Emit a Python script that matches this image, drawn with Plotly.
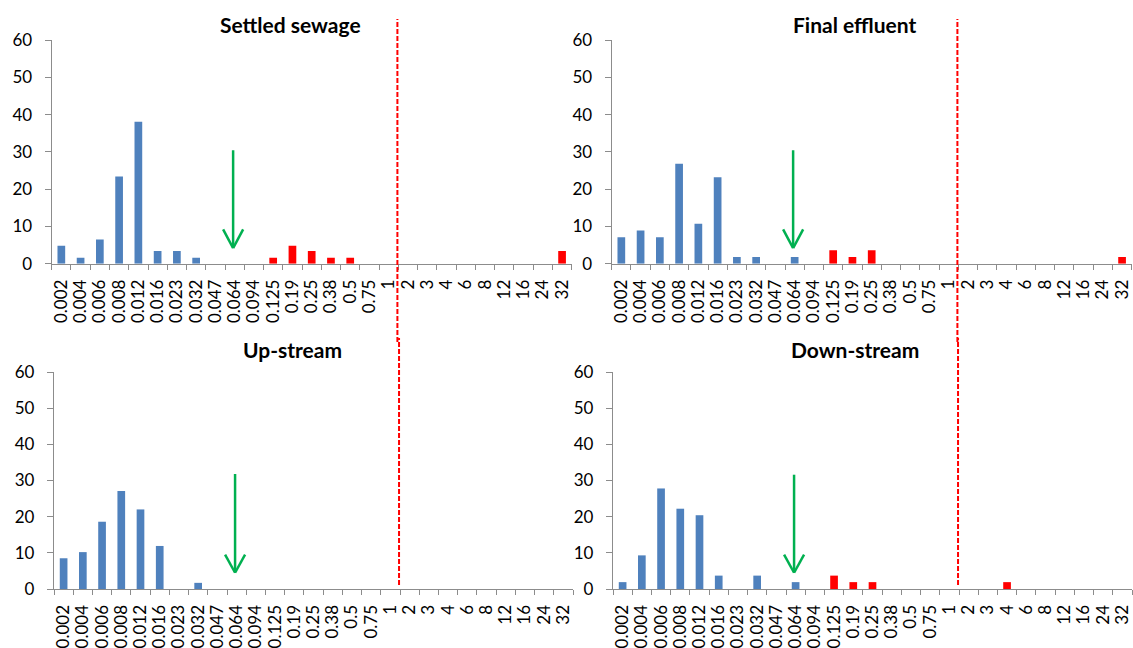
import plotly.graph_objects as go

# ---------------- data ----------------
categories = ["0.002", "0.004", "0.006", "0.008", "0.012", "0.016", "0.023", "0.032",
              "0.047", "0.064", "0.094", "0.125", "0.19", "0.25", "0.38", "0.5", "0.75",
              "1", "2", "3", "4", "6", "8", "12", "16", "24", "32"]

settled_sewage = [4.8, 1.6, 6.5, 23.4, 38.1, 3.4, 3.4, 1.6, 0, 0, 0, 1.6, 4.8, 3.4,
                  1.6, 1.6, 0, 0, 0, 0, 0, 0, 0, 0, 0, 0, 3.4]
final_effluent = [7.1, 8.9, 7.1, 26.8, 10.7, 23.2, 1.8, 1.8, 0, 1.8, 0, 3.6, 1.8, 3.6,
                  0, 0, 0, 0, 0, 0, 0, 0, 0, 0, 0, 0, 1.8]
up_stream = [8.5, 10.2, 18.6, 27.1, 22.0, 11.9, 0, 1.7, 0, 0, 0, 0, 0, 0,
             0, 0, 0, 0, 0, 0, 0, 0, 0, 0, 0, 0, 0]
down_stream = [1.9, 9.3, 27.8, 22.2, 20.4, 3.7, 0, 3.7, 0, 1.9, 0, 3.7, 1.9, 1.9,
               0, 0, 0, 0, 0, 0, 1.9, 0, 0, 0, 0, 0, 0]

titles = ["Settled sewage", "Final effluent", "Up-stream", "Down-stream"]
series = [settled_sewage, final_effluent, up_stream, down_stream]

susceptible_max = "0.094"      # bars above this MIC are drawn red
breakpoint_pos = 17.45         # dashed breakpoint line (between "1" and "2")
arrow_pos = 8.92               # green arrow (ECOFF) near "0.064"
arrow_top = [30.4, 30.4, 31.8, 31.6]
arrow_tip = [4.2, 4.2, 4.5, 4.5]

# ---------------- styling ----------------
BLUE = "#4F81BD"
RED = "#FF0000"
GREEN = "#00B050"
AXIS = "#8C8C8C"
FONT = "Lato"

W, H = 1133, 648
# plot areas in pixels: (left, right, top, bottom)
areas = [(51.7, 571.7, 40.0, 263.7),
         (611.7, 1131.7, 40.0, 263.7),
         (54.0, 573.0, 372.0, 589.0),
         (613.0, 1132.0, 372.0, 589.0)]
title_xy = [(290, 25), (854, 25), (292, 349.5), (855, 349.5)]
line_span = [(19, 342), (19, 342), (338, 585), (338, 585)]

cut_idx = categories.index(susceptible_max)
colors = [BLUE if i <= cut_idx else RED for i in range(len(categories))]

fig = go.Figure()
shapes = []
annotations = []

for k in range(4):
    n = "" if k == 0 else str(k + 1)
    fig.add_trace(go.Bar(
        x=categories, y=series[k], marker=dict(color=colors, line=dict(width=0)),
        xaxis="x" + n, yaxis="y" + n, showlegend=False, hoverinfo="x+y"))

    l, r, t, b = areas[k]
    fig.update_layout(**{
        "xaxis" + n: dict(
            domain=[l / W, r / W], anchor="y" + n, type="category",
            categoryorder="array", categoryarray=categories,
            range=[-0.5, len(categories) - 0.5], tickson="boundaries",
            tickmode="linear", tick0=0, dtick=1,
            ticks="outside", ticklen=5, tickcolor=AXIS, tickwidth=1,
            showline=True, linecolor=AXIS, linewidth=1.3,
            showgrid=False, zeroline=False, tickangle=-90,
            tickfont=dict(family=FONT, size=17, color="#000000"),
            ticklabelstandoff=8, automargin=False, fixedrange=True),
        "yaxis" + n: dict(
            domain=[1 - b / H, 1 - t / H], anchor="x" + n,
            range=[0, 60], dtick=10, tick0=0,
            ticks="outside", ticklen=6, tickcolor=AXIS, tickwidth=1,
            showline=True, linecolor=AXIS, linewidth=1.3,
            showgrid=False, zeroline=False,
            tickfont=dict(family=FONT, size=17, color="#000000"),
            ticklabelstandoff=9, automargin=False, fixedrange=True),
    })

    # title
    tx, ty = title_xy[k]
    annotations.append(dict(
        text="<b>" + titles[k] + "</b>", x=tx / W, y=1 - ty / H,
        xref="paper", yref="paper", xanchor="center", yanchor="middle",
        showarrow=False, font=dict(family=FONT, size=21, color="#000000")))

    # red dashed breakpoint line
    y0p, y1p = line_span[k]
    shapes.append(dict(
        type="line", xref="x" + n, yref="paper",
        x0=breakpoint_pos, x1=breakpoint_pos, y0=1 - y1p / H, y1=1 - y0p / H,
        line=dict(color=RED, width=2, dash="5px,2px")))

    # green arrow: shaft + open chevron head
    head_dx = 0.52
    head_dy = 5.0
    shapes.append(dict(
        type="line", xref="x" + n, yref="y" + n,
        x0=arrow_pos, x1=arrow_pos, y0=arrow_top[k], y1=arrow_tip[k] + 0.3,
        line=dict(color=GREEN, width=2.5)))
    for s in (-1, 1):
        shapes.append(dict(
            type="line", xref="x" + n, yref="y" + n,
            x0=arrow_pos + s * head_dx, x1=arrow_pos, y0=arrow_tip[k] + head_dy,
            y1=arrow_tip[k], line=dict(color=GREEN, width=2.5)))

fig.update_layout(
    width=W, height=H, margin=dict(l=0, r=0, t=0, b=0, autoexpand=False),
    paper_bgcolor="white", plot_bgcolor="white",
    bargap=0.6, showlegend=False,
    shapes=shapes, annotations=annotations,
    font=dict(family=FONT, color="#000000"),
)

fig.write_html(
    "out.html",
    config={"displayModeBar": False},
    post_script="document.body.style.margin='0px';document.body.style.overflow='hidden';",
)
